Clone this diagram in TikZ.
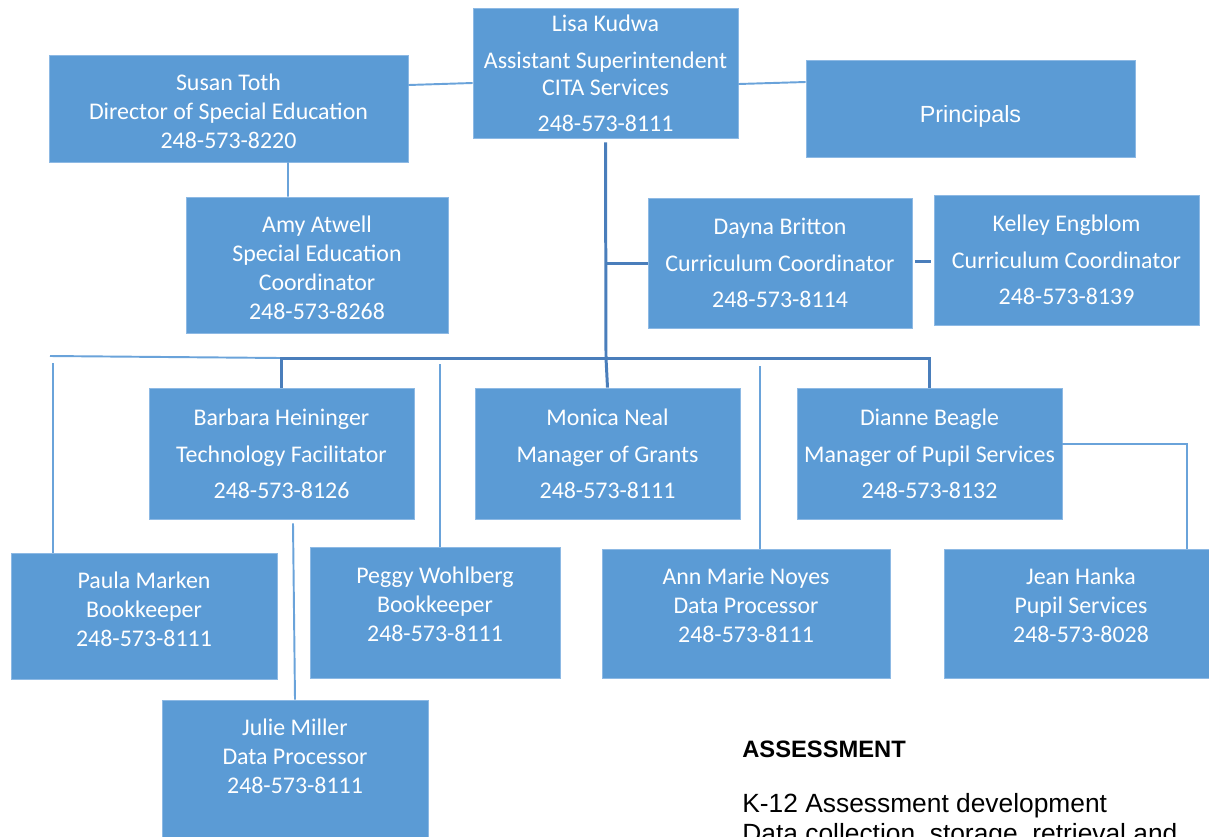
\documentclass[tikz,border=0pt]{standalone}
\usepackage{fontspec}
\setmainfont{Carlito}
\newfontfamily\arialfont{Liberation Sans}
\usepackage{tikz}
\usetikzlibrary{positioning,calc}
\definecolor{boxblue}{HTML}{5B9BD5}
\definecolor{boxedge}{HTML}{8DB9E4}
\definecolor{trunkblue}{HTML}{4A7EBB}
\definecolor{linkblue}{HTML}{6AA3DA}
\tikzset{
    staff/.style = {
        draw=boxedge,
        fill=boxblue,
        shape=rectangle,
        text=white,
        align=center,
        inner sep=0pt,
        line width=0.5pt,
        font=\fontsize{13.6}{16.5}\selectfont
    },
    trunk/.style = {
        draw=trunkblue,
        line width=1.7pt
    },
    link/.style = {
        draw=linkblue,
        line width=1.1pt
    },
    note/.style = {
        anchor=base west,
        inner sep=0pt,
        text=black
    },
}

\begin{document}
\begin{tikzpicture}[x=0.02cm, y=-0.02cm]
            \useasboundingbox (0,0) rectangle (1209,836);

            \node[staff, minimum width=5.3cm, minimum height=2.6cm] (lisa) at (605.5,73)
                {Lisa Kudwa\\[0.16cm]Assistant Superintendent\\[-0.04cm]CITA Services\\[0.14cm]248-573-8111};
            \node[staff, minimum width=7.18cm, minimum height=2.14cm] (susan) at (228.5,108.5)
                {Susan Toth\\Director of Special Education\\248-573-8220\\[-0.7cm]};
            \node[staff, minimum width=6.58cm, minimum height=1.94cm,
                  font=\arialfont\fontsize{13.3}{16}\selectfont] (principals) at (970.5,108.5) {Principals\\[-0.8cm]};
            \node[staff, minimum width=5.24cm, minimum height=2.72cm] (amy) at (317,265)
                {Amy Atwell\\Special Education\\Coordinator\\248-573-8268\\[-0.7cm]};
            \node[staff, minimum width=5.28cm, minimum height=2.6cm] (dayna) at (780,263)
                {Dayna Britton\\[0.16cm]Curriculum Coordinator\\[0.14cm]248-573-8114};
            \node[staff, minimum width=5.3cm, minimum height=2.6cm] (kelley) at (1066.5,260)
                {Kelley Engblom\\[0.16cm]Curriculum Coordinator\\[0.14cm]248-573-8139};

            \node[staff, minimum width=5.3cm, minimum height=2.62cm] (barbara) at (281.5,453.5)
                {Barbara Heininger\\[0.16cm]Technology Facilitator\\[0.14cm]248-573-8126};
            \node[staff, minimum width=5.3cm, minimum height=2.62cm] (monica) at (607.5,453.5)
                {Monica Neal\\[0.16cm]Manager of Grants\\[0.14cm]248-573-8111};
            \node[staff, minimum width=5.3cm, minimum height=2.62cm] (dianne) at (929.5,453.5)
                {Dianne Beagle\\[0.16cm]Manager of Pupil Services\\[0.14cm]248-573-8132};

            \node[staff, minimum width=5.32cm, minimum height=2.52cm] (paula) at (144,616)
                {Paula Marken\\Bookkeeper\\248-573-8111\\[-0.3cm]};
            \node[staff, minimum width=5cm, minimum height=2.62cm] (peggy) at (435,612.5)
                {Peggy Wohlberg\\Bookkeeper\\248-573-8111\\[-0.24cm]};
            \node[staff, minimum width=5.76cm, minimum height=2.58cm] (annmarie) at (746,613.5)
                {Ann Marie Noyes\\Data Processor\\248-573-8111\\[-0.24cm]};
            \node[staff, minimum width=5.48cm, minimum height=2.58cm] (jean) at (1081,613.5)
                {Jean Hanka\\Pupil Services\\248-573-8028\\[-0.24cm]};
            \node[staff, minimum width=5.32cm, minimum height=2.8cm] (julie) at (295,770)
                {Julie Miller\\Data Processor\\248-573-8111\\[-0.02cm]};

            \node[note, font=\arialfont\bfseries\fontsize{13.5}{16}\selectfont] (assess) at (742,757) {ASSESSMENT};
            \node[note, font=\arialfont\fontsize{15}{18}\selectfont] (kdev) at (742,812) {K-12 Assessment development};
            \node[note, font=\arialfont\fontsize{15}{18}\selectfont] (datacoll) at (742,842) {Data collection, storage, retrieval and};

            % junctions and loose ends
            \coordinate (hub) at (606,358);
            \coordinate (leftend) at (50,356);
            \coordinate (paulatop) at (53,363);
            \coordinate (peggytop) at (440,364);
            \coordinate (anntop) at (760,366);

            \path[link] ($(susan.east)+(0,-23.5)$) -- ($(lisa.west)+(0,10)$);
            \path[link] ($(lisa.east)+(0,11)$) -- ($(principals.west)+(0,-26.5)$);
            \path[link] ($(susan.south)+(59.5,0)$) -- ($(amy.north)+(-29,0)$);

            \path[link] (leftend) -- (hub -| barbara.north);
            \path[trunk] ($(lisa.south)+(0,4)$) -- (hub);
            \path[trunk] (barbara.north) |- (hub) -| (dianne.north);
            \path[trunk] (hub) -- (monica.north);
            \path[trunk] (dayna.west -| hub) -- (dayna.west);
            \path[trunk, shorten <=0.06cm, shorten >=0.06cm] ($(dayna.east)+(0,-2)$) -- ($(kelley.west)+(0,1)$);

            \path[link] (paulatop) -- (paulatop |- paula.north);
            \path[link] (peggytop) -- (peggytop |- peggy.north);
            \path[link] (anntop) -- (anntop |- annmarie.north);
            \path[link] ($(barbara.south)+(11.5,4)$) -- (julie.north);
            \path[link] ($(dianne.east)+(0,-9.5)$) -| ($(jean.north)+(106,0)$);
        \end{tikzpicture}
\end{document}
